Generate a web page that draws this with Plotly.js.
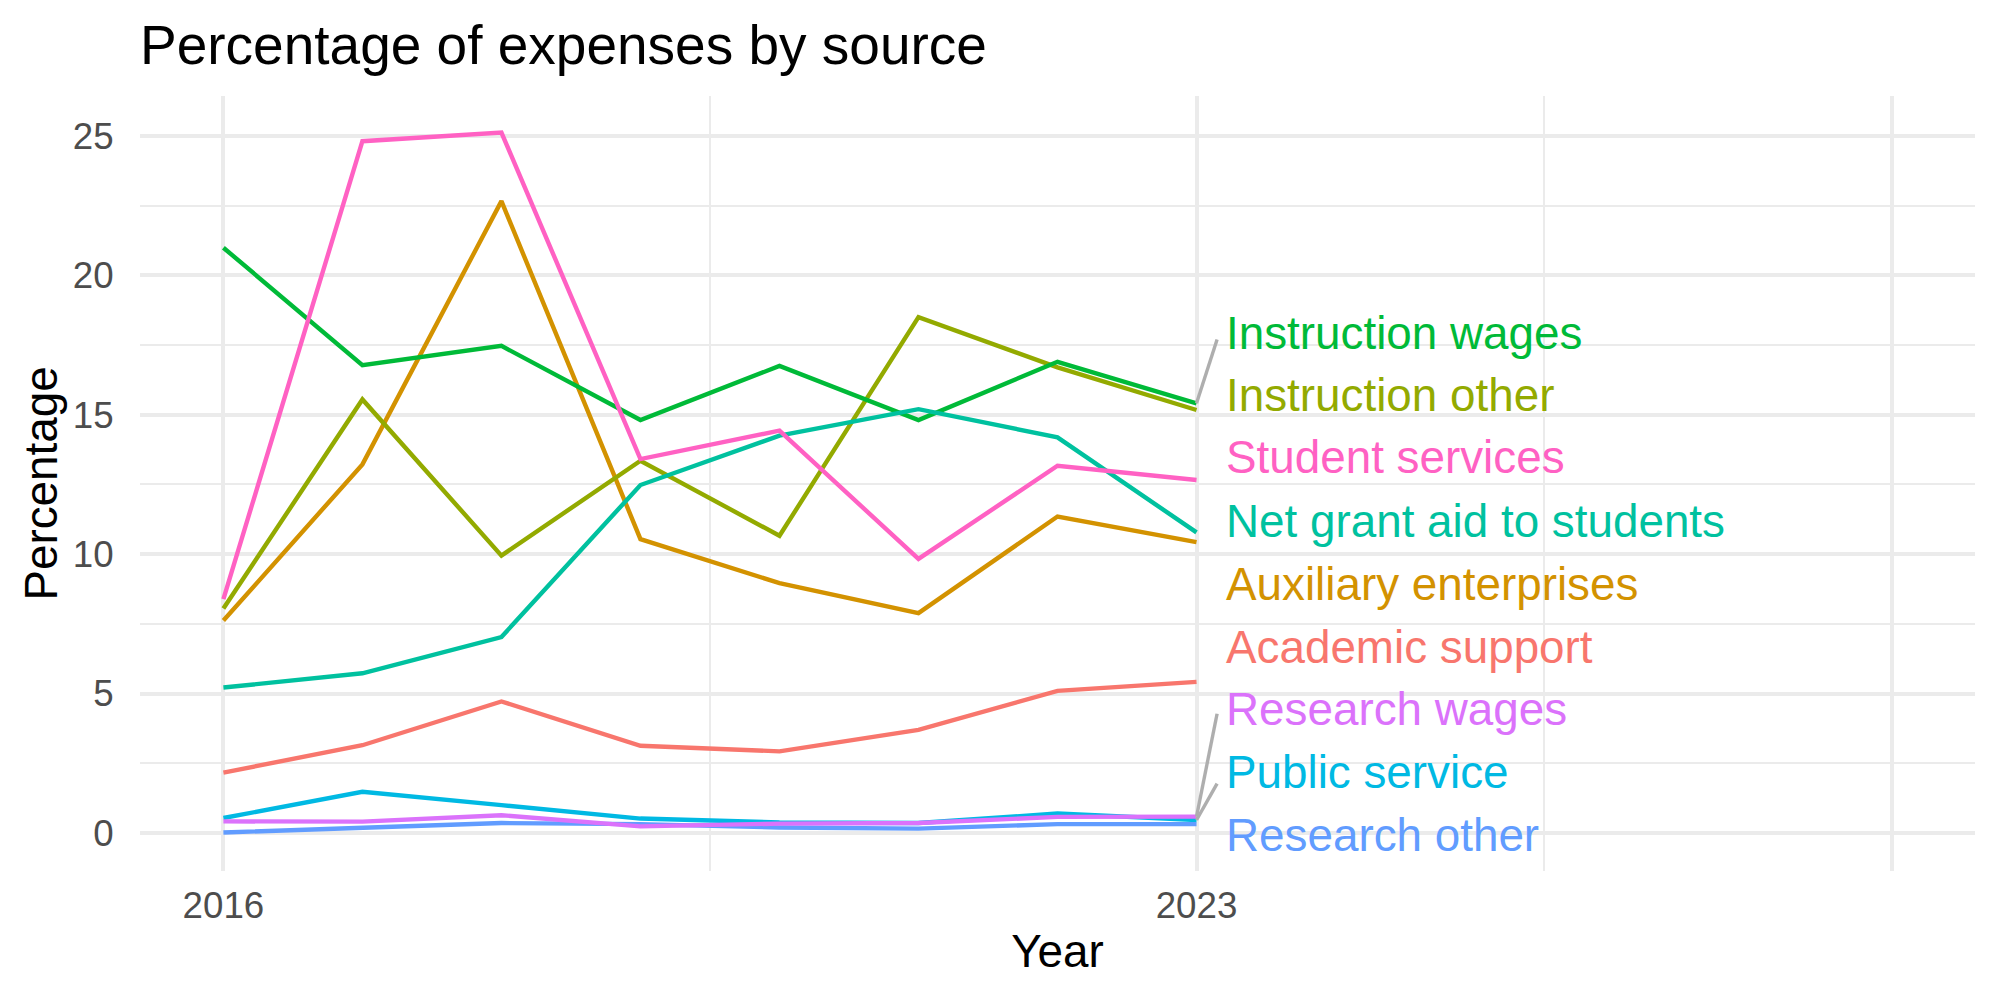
<!DOCTYPE html>
<html>
<head>
<meta charset="utf-8">
<script src="https://cdn.plot.ly/plotly-3.0.1.min.js"></script>
<style>
  html, body { margin: 0; padding: 0; background: #ffffff; }
  #chart { width: 2000px; height: 1000px; }
</style>
</head>
<body>
<div id="chart"></div>
<script>
// Share of total expenses by source, 2016-2023
const years = [2016, 2017, 2018, 2019, 2020, 2021, 2022, 2023];

const academicSupport      = [2.17, 3.15, 4.72, 3.13, 2.93, 3.70, 5.10, 5.42];
const auxiliaryEnterprises = [7.62, 13.22, 22.66, 10.54, 8.96, 7.89, 11.35, 10.43];
const instructionOther     = [8.05, 15.55, 9.95, 13.35, 10.66, 18.50, 16.70, 15.17];
const instructionWages     = [20.99, 16.78, 17.47, 14.81, 16.75, 14.81, 16.90, 15.41];
const netGrantAid          = [5.22, 5.73, 7.03, 12.48, 14.25, 15.20, 14.19, 10.78];
const publicService        = [0.54, 1.48, 1.00, 0.52, 0.38, 0.36, 0.70, 0.47];
const researchOther        = [0.02, 0.18, 0.36, 0.32, 0.20, 0.16, 0.32, 0.32];
const researchWages        = [0.42, 0.41, 0.64, 0.24, 0.34, 0.36, 0.58, 0.59];
const studentServices      = [8.39, 24.81, 25.12, 13.41, 14.43, 9.83, 13.17, 12.66];

const sourceNames = [
  "Academic support", "Auxiliary enterprises", "Instruction other",
  "Instruction wages", "Net grant aid to students", "Public service",
  "Research other", "Research wages", "Student services"
];
const sourceValues = [
  academicSupport, auxiliaryEnterprises, instructionOther,
  instructionWages, netGrantAid, publicService,
  researchOther, researchWages, studentServices
];
const sourceColors = [
  "#F8766D", "#D39200", "#93AA00", "#00BA38", "#00C19F",
  "#00B9E3", "#619CFF", "#DB72FB", "#FF61C3"
];

// End-of-line label placement (repelled so they don't overlap)
const labelOrder = [
  "Instruction wages", "Instruction other", "Student services",
  "Net grant aid to students", "Auxiliary enterprises", "Academic support",
  "Research wages", "Public service", "Research other"
];
const labelY = [17.91, 15.69, 13.45, 11.17, 8.91, 6.67, 4.42, 2.16, -0.07];
const labelX = 2023.2;

// Connector segments for labels that were pushed away from their line end
const connectorSources = ["Instruction wages", "Research wages", "Public service"];
const connectorEndX = 2023.148;
const connectorEndY = [17.70, 4.28, 1.77];

const xTickVals = [2016, 2023, 2028];
const xTickText = ["2016", "2023", ""];
const xMinorVals = [2019.5, 2025.5];
const yTickVals = [0, 5, 10, 15, 20, 25];
const yMinorVals = [2.5, 7.5, 12.5, 17.5, 22.5];

const FONT = "'Liberation Sans', Arial, Helvetica, sans-serif";
const GRID = "#EBEBEB";

const traces = sourceNames.map((name, i) => ({
  type: "scatter",
  mode: "lines",
  name: name,
  x: years,
  y: sourceValues[i],
  line: { color: sourceColors[i], width: 4.4 },
  hoverinfo: "x+y+name",
  showlegend: false
}));

connectorSources.forEach((name, k) => {
  const vals = sourceValues[sourceNames.indexOf(name)];
  traces.push({
    type: "scatter",
    mode: "lines",
    x: [years[years.length - 1], connectorEndX],
    y: [vals[vals.length - 1], connectorEndY[k]],
    line: { color: "#AEAEAE", width: 3.4 },
    hoverinfo: "skip",
    showlegend: false
  });
});

const annotations = labelOrder.map((name, k) => ({
  xref: "x", yref: "y",
  x: labelX, y: labelY[k],
  text: name,
  showarrow: false,
  xanchor: "left", yanchor: "middle",
  font: { family: FONT, size: 45.8, color: sourceColors[sourceNames.indexOf(name)] }
}));

const layout = {
  width: 2000,
  height: 1000,
  paper_bgcolor: "#ffffff",
  plot_bgcolor: "#ffffff",
  margin: { l: 140, r: 25, t: 96, b: 129, pad: 0 },
  font: { family: FONT, color: "#000000" },
  title: {
    text: "Percentage of expenses by source",
    font: { family: FONT, size: 55, color: "#000000" },
    xref: "paper", x: 0, xanchor: "left",
    yref: "container", y: 0.9555, yanchor: "middle"
  },
  xaxis: {
    range: [2015.4, 2028.6],
    tickmode: "array",
    tickvals: xTickVals,
    ticktext: xTickText,
    ticks: "outside",
    ticklen: 2,
    tickcolor: "rgba(0,0,0,0)",
    tickfont: { family: FONT, size: 36.7, color: "#4D4D4D" },
    showgrid: true,
    gridcolor: GRID,
    gridwidth: 4,
    minor: { tickmode: "array", tickvals: xMinorVals, showgrid: true, gridcolor: GRID, gridwidth: 2, ticks: "" },
    zeroline: false,
    showline: false,
    automargin: false,
    title: { text: "Year", font: { family: FONT, size: 45.8, color: "#000000" }, standoff: 9 }
  },
  yaxis: {
    range: [-1.36, 26.43],
    tickmode: "array",
    tickvals: yTickVals,
    ticks: "outside",
    ticklen: 18,
    tickcolor: "rgba(0,0,0,0)",
    tickfont: { family: FONT, size: 36.7, color: "#4D4D4D" },
    showgrid: true,
    gridcolor: GRID,
    gridwidth: 4,
    minor: { tickmode: "array", tickvals: yMinorVals, showgrid: true, gridcolor: GRID, gridwidth: 2, ticks: "" },
    zeroline: false,
    showline: false,
    automargin: false,
    title: { text: "Percentage", font: { family: FONT, size: 45.8, color: "#000000" }, standoff: 0 }
  },
  annotations: annotations,
  showlegend: false
};

Plotly.newPlot("chart", traces, layout, { displayModeBar: false, staticPlot: true });
</script>
</body>
</html>
